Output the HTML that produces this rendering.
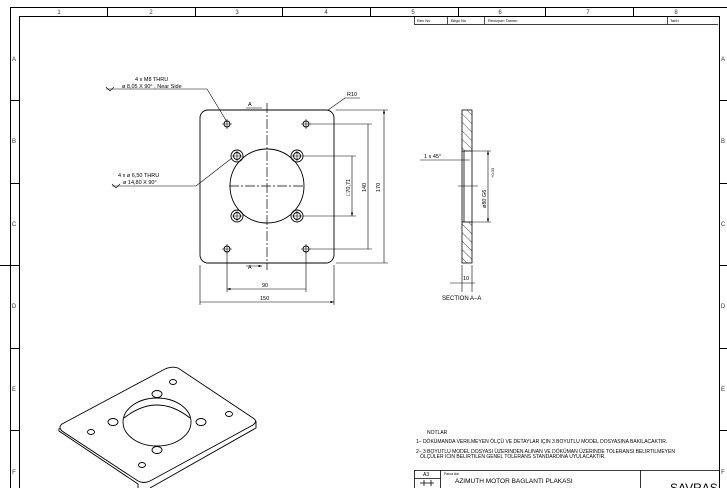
<!DOCTYPE html>
<html><head><style>body{margin:0;background:#fff}svg{display:block}text{font-family:"Liberation Sans",sans-serif}</style></head><body>
<svg width="727" height="488" viewBox="0 0 727 488" xmlns="http://www.w3.org/2000/svg">
<defs>
<pattern id="h" width="6" height="6" patternUnits="userSpaceOnUse" patternTransform="rotate(-45)"><line x1="0" y1="0" x2="0" y2="6" stroke="#000" stroke-width="0.7"/></pattern>
<marker id="a" markerWidth="6" markerHeight="4" refX="6" refY="2" orient="auto-start-reverse"><path d="M0,0L6,2L0,4z" fill="#000"/></marker>
</defs>
<g fill="none" stroke="#000" stroke-width="1">
<path d="M10.5,488V7.5H727M19.5,488V16.5H719.5V488"/>
<path d="M107.5,7V16M195.5,7V16M282.5,7V16M370.5,7V16M458.5,7V16M545.5,7V16M633.5,7V16"/>
<path d="M10,100.5H19M10,183.5H19M0,265.5H19M10,348.5H19M10,430.5H19M719,100.5H727M719,183.5H727M719,265.5H727M719,348.5H727M719,430.5H727"/>
<path d="M414.5,16V24.5H718M447.5,16V24M484.5,16V24M667.5,16V24" stroke-width="0.7"/>
<path d="M414.5,470.5H719M414.5,470V488M440.5,470V488M640.5,470V488M414,478.5H440" stroke-width="0.8"/>
</g>
<g font-size="6" fill="#333" text-anchor="middle">
<text x="59" y="14">1</text><text x="151" y="14">2</text><text x="237" y="14">3</text><text x="326" y="14">4</text><text x="413" y="14">5</text><text x="500" y="14">6</text><text x="588" y="14">7</text><text x="676" y="14">8</text>
<text x="14" y="61">A</text><text x="14" y="143">B</text><text x="14" y="226">C</text><text x="14" y="308">D</text><text x="14" y="391">E</text><text x="14" y="474">F</text>
<text x="723" y="61">A</text><text x="723" y="143">B</text><text x="723" y="226">C</text><text x="723" y="308">D</text><text x="723" y="391">E</text><text x="723" y="474">F</text>
</g>
<g font-size="4" fill="#000"><text x="417" y="22">Rev No</text><text x="451" y="22">Bilgo No</text><text x="488" y="22">Revizyon Tanımı</text><text x="670" y="22">Tarih</text></g>

<!-- plate -->
<g fill="none" stroke="#000" stroke-width="0.9">
<rect x="200" y="110" width="134" height="153" rx="8"/>
<circle cx="267" cy="186" r="37"/>
<g>
<circle cx="227" cy="124" r="3"/><circle cx="306" cy="124" r="3"/><circle cx="227" cy="249" r="3"/><circle cx="306" cy="249" r="3"/>
<circle cx="237" cy="156" r="6"/><circle cx="297" cy="156" r="6"/><circle cx="237" cy="216" r="6"/><circle cx="297" cy="216" r="6"/>
<circle cx="237" cy="156" r="3.5"/><circle cx="297" cy="156" r="3.5"/><circle cx="237" cy="216" r="3.5"/><circle cx="297" cy="216" r="3.5"/>
</g>
<path d="M267,103V270M229,186H305" stroke-width="0.7" stroke-dasharray="10,2,2,2"/>
<path d="M222,124h10M227,119v10M301,124h10M306,119v10M222,249h10M227,244v10M301,249h10M306,244v10M232,156h10M237,151v10M292,156h10M297,151v10M232,216h10M237,211v10M292,216h10M297,211v10" stroke-width="0.6"/>
<g stroke-width="0.6">
<path d="M336,110H388M310,124H372M303,156H356M303,216H356M310,249H372M336,263H388"/>
<path d="M384,110V263M368,124V249M352,156V216" marker-start="url(#a)" marker-end="url(#a)"/>
<path d="M227,253V292M306,253V292M200,265V305M334,265V305"/>
<path d="M227,289H306M200,302H334" marker-start="url(#a)" marker-end="url(#a)"/>
<path d="M246,108H262M246,266H262" marker-end="url(#a)"/>
<path d="M106,89H207L227,122" /><path d="M112,186H196L232,158"/>
<path d="M328,110L345,98H360"/>
<path d="M106,87l4,4l4,-4M112,184l4,4l4,-4"/>
</g>
</g>
<g font-size="5.5" fill="#000">
<text x="135" y="81">4 x M8  THRU</text><text x="122" y="88">ø 8,05 X 90° , Near Side</text>
<text x="118" y="177">4 x ø 6,50 THRU</text><text x="123" y="184">ø 14,80 X 90°</text>
<text x="347" y="96">R10</text>
<text x="248" y="106">A</text><text x="248" y="269">A</text>
<text x="262" y="287">90</text><text x="260" y="300">150</text>
<text transform="translate(380,192) rotate(-90)">170</text>
<text transform="translate(366,192) rotate(-90)">140</text>
<text transform="translate(350,196) rotate(-90)">□70,71</text>
</g>

<!-- section -->
<g stroke="#000" stroke-width="0.8">
<rect x="462" y="110" width="10" height="41" fill="url(#h)"/>
<rect x="462" y="222" width="10" height="41" fill="url(#h)"/>
<path d="M462,151V222M472,151V222M464,151V222" fill="none"/>
<path d="M472,151H491M472,222H491M420,160H470M458,186H478M450,283H475" fill="none" stroke-width="0.6"/>
<path d="M488,151V222" marker-start="url(#a)" marker-end="url(#a)" stroke-width="0.6" fill="none"/>
<path d="M462,265V292M472,265V292" fill="none" stroke-width="0.6"/>
</g>
<g font-size="5.5" fill="#000">
<text x="424" y="158">1 x 45°</text><text x="463" y="280">10</text>
<text x="442" y="300" font-size="6">SECTION  A–A</text>
<text transform="translate(486,208) rotate(-90)">ø80  G6 </text>
<text transform="translate(494,178) rotate(-90)" font-size="4">+0.03</text>
</g>

<!-- iso -->
<g fill="none" stroke="#000" stroke-width="0.9">
<path d="M62,424L165,369Q172,366 178,368L253,418Q258,421 253,425L150,481Q144,484 138,481L62,431Q58,427 62,424Z"/>
<path d="M59,428V431L138,484V488M256,421V428L150,488"/>
<ellipse cx="157" cy="422" rx="34" ry="24"/>
<path d="M124,418Q157,392 190,418"/>
<ellipse cx="173" cy="382" rx="3.5" ry="2.5"/><ellipse cx="229" cy="414" rx="3.5" ry="2.5"/><ellipse cx="91" cy="432" rx="3.5" ry="2.5"/><ellipse cx="142" cy="465" rx="3.5" ry="2.5"/>
<ellipse cx="157" cy="394" rx="5" ry="3.5"/><ellipse cx="201" cy="422" rx="5" ry="3.5"/><ellipse cx="113" cy="422" rx="5" ry="3.5"/><ellipse cx="157" cy="450" rx="5" ry="3.5"/>
</g>

<!-- notes & title -->
<g font-size="5" fill="#000">
<text x="427" y="434">NOTLAR</text>
<text x="416" y="443">1– DÖKÜMANDA VERILMEYEN ÖLÇÜ VE DETAYLAR IÇIN 3 BOYUTLU MODEL DOSYASINA BAKILACAKTIR.</text>
<text x="416" y="453">2– 3 BOYUTLU MODEL DOSYASI ÜZERINDEN ALINAN VE DÖKÜMAN ÜZERINDE TOLERANSI BELIRTILMEYEN</text>
<text x="420" y="458">ÖLÇÜLER ICIN BELIRTILEN GENEL TOLERANS STANDARDINA UYULACAKTIR.</text>
<text x="423" y="476">A3</text><text x="444" y="475" font-size="3.5">Parca Adı</text>
<text x="455" y="483" font-size="6.5">AZIMUTH MOTOR BAGLANTI PLAKASI</text>
<text x="670" y="492" font-size="12">SAVRAS</text>
</g>
<path d="M420,483h14M424,480v6M431,480v6" stroke="#000" stroke-width="0.8"/>
</svg>
</body></html>
